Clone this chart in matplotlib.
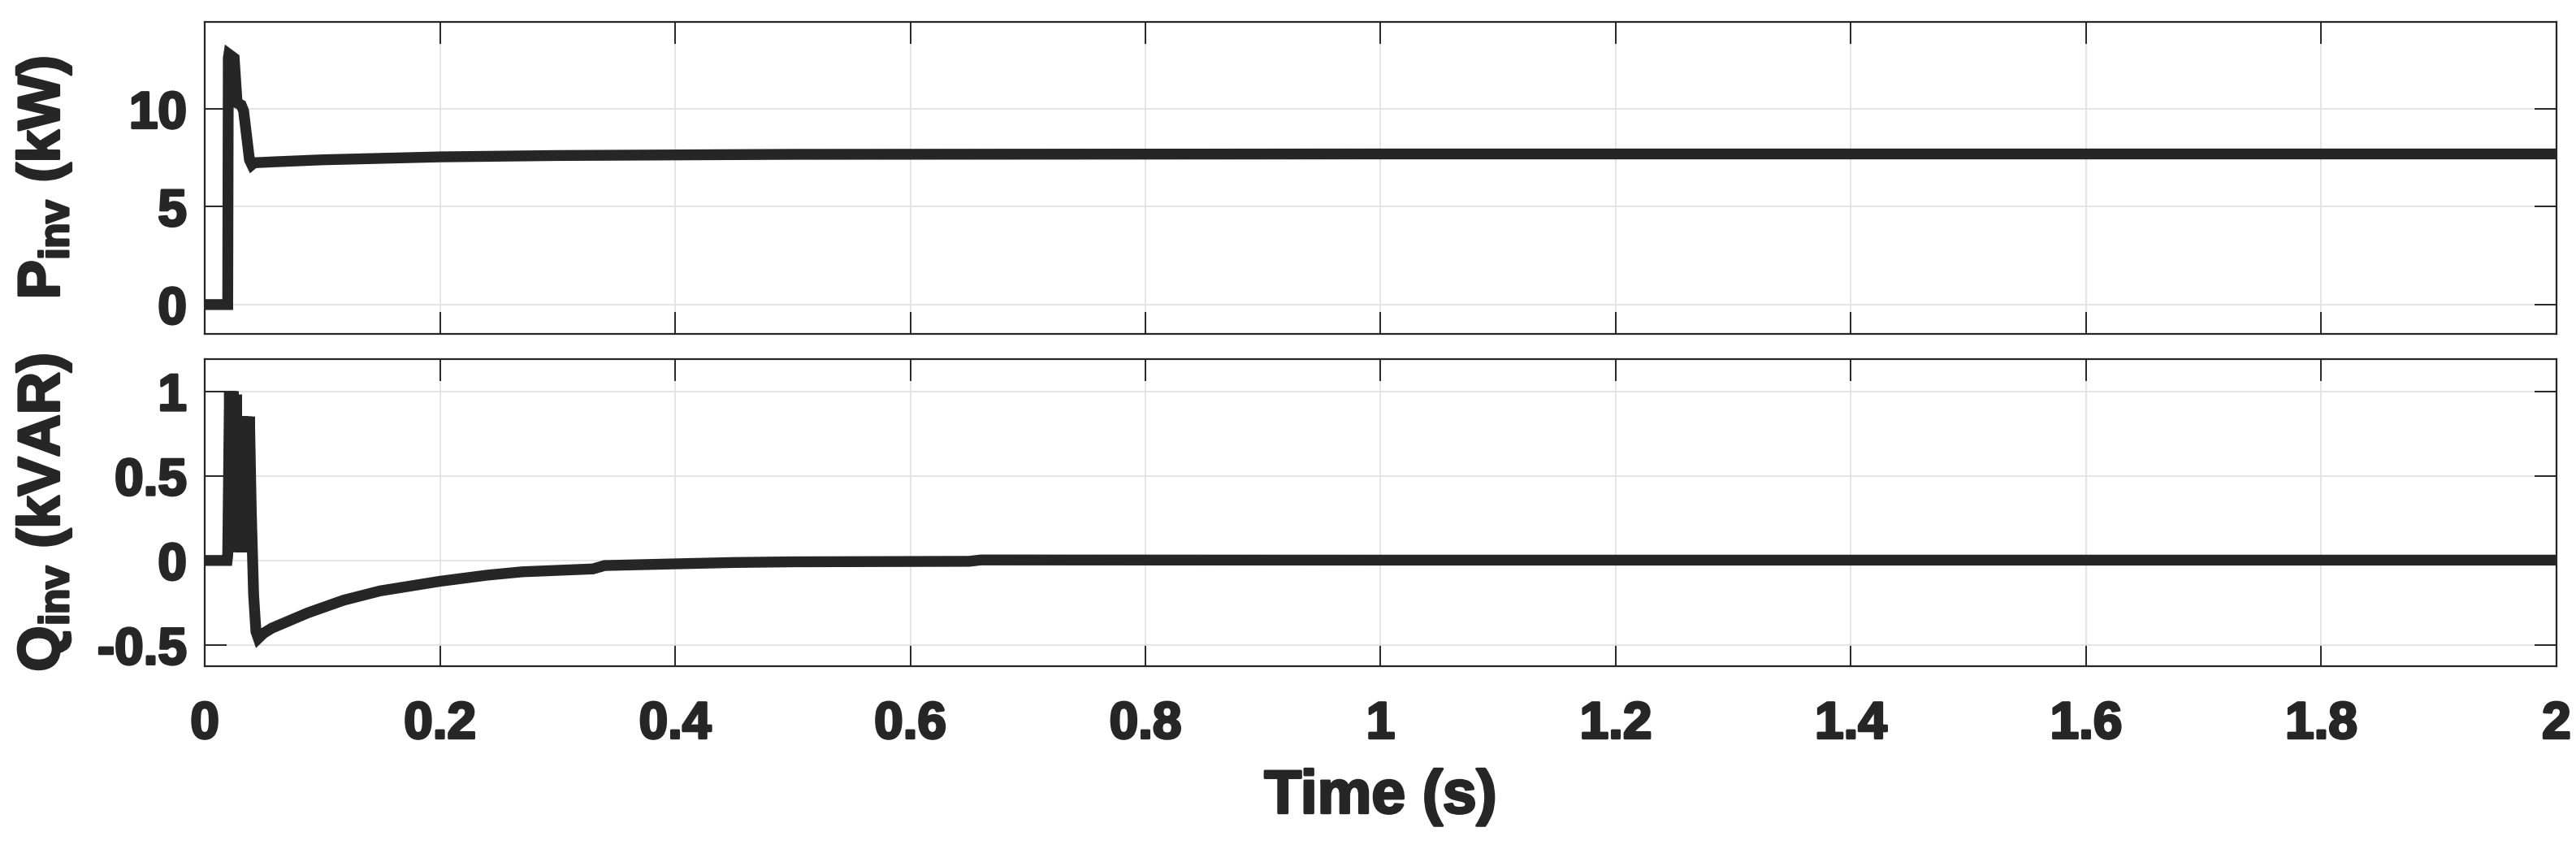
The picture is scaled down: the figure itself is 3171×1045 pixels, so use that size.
import matplotlib
matplotlib.use("Agg")
import matplotlib.pyplot as plt
import matplotlib.patheffects as pe
import numpy as np

# ---- data ----
p_time = [0.0, 0.0195, 0.0200, 0.0205, 0.0250, 0.0275, 0.0310, 0.0330,
          0.0380, 0.0400, 0.0420, 0.0600, 0.1000, 0.2000, 0.3000, 0.5000,
          1.0000, 2.0000]
p_inv = [0.0, 0.0, 12.6, 12.8, 12.6, 10.3, 10.2, 9.9,
         7.4, 7.15, 7.25, 7.3, 7.4, 7.55, 7.62, 7.68,
         7.7, 7.7]

q_time = [0.0, 0.0190, 0.0195, 0.0210, 0.0225, 0.0240, 0.0255, 0.0270,
          0.0280, 0.0295, 0.0310, 0.0325, 0.0340, 0.0355, 0.0370, 0.0380,
          0.0395, 0.0415, 0.0435, 0.0455, 0.0500, 0.0570, 0.0875, 0.1180,
          0.1490, 0.2000, 0.2400, 0.2700, 0.3300, 0.3400, 0.4000, 0.4500,
          0.5000, 0.6500, 0.6600, 1.0000, 2.0000]
q_inv = [0.0, 0.0, 0.03, 1.0, 0.1, 1.0, 0.1, 0.98,
         0.05, 0.85, 0.05, 0.85, 0.05, 0.85, 0.1, 0.85,
         0.3, -0.2, -0.42, -0.46, -0.43, -0.40, -0.31, -0.235,
         -0.18, -0.123, -0.087, -0.067, -0.05, -0.03, -0.02, -0.012,
         -0.008, -0.005, 0.003, 0.002, 0.002]

x_ticks = [0, 0.2, 0.4, 0.6, 0.8, 1.0, 1.2, 1.4, 1.6, 1.8, 2.0]
x_ticklabels = ["0", "0.2", "0.4", "0.6", "0.8", "1", "1.2", "1.4", "1.6", "1.8", "2"]
p_ticks = [0, 5, 10]
q_ticks = [-0.5, 0, 0.5, 1]
q_ticklabels = ["-0.5", "0", "0.5", "1"]

# ---- style ----
plt.rcParams['font.family'] = ['Liberation Sans', 'DejaVu Sans']
plt.rcParams['font.weight'] = 'bold'
plt.rcParams['mathtext.fontset'] = 'custom'
plt.rcParams['mathtext.rm'] = 'Liberation Sans:bold'
plt.rcParams['mathtext.bf'] = 'Liberation Sans:bold'
plt.rcParams['mathtext.it'] = 'Liberation Sans:bold'

DARK = '#262626'
TICK_FS = 46
LABEL_FS = 52
heavy = [pe.withStroke(linewidth=2.2, foreground=DARK)]

fig = plt.figure(figsize=(31.71, 10.45), dpi=100)
ax1 = fig.add_axes([0.0795, 0.6067, 0.9129, 0.3675])
ax2 = fig.add_axes([0.0795, 0.2153, 0.9129, 0.3617])

def style(ax):
    for s in ax.spines.values():
        s.set_color(DARK)
        s.set_linewidth(1.6)
    ax.grid(True, color='#e3e3e3', linewidth=1.3)
    ax.set_axisbelow(True)
    ax.tick_params(axis='both', which='both', direction='in', length=19.5,
                   width=1.4, color=DARK, top=True, right=True,
                   labelsize=TICK_FS, labelcolor=DARK)
    ax.tick_params(axis='x', pad=30)
    ax.tick_params(axis='y', pad=16)
    ax.set_xlim(0, 2)
    ax.set_xticks(x_ticks)

ax1.plot(p_time, p_inv, color=DARK, linewidth=9.6, solid_joinstyle='miter')
style(ax1)
ax1.set_ylim(-1.5, 14.45)
ax1.set_yticks(p_ticks)
ax1.set_xticklabels([])
ax1.set_ylabel(r'P$_{\rm inv}$ (kW)', fontsize=LABEL_FS, fontweight='bold', color=DARK)
ax1.yaxis.set_label_coords(-0.056, 0.5)

ax2.plot(q_time, q_inv, color=DARK, linewidth=9.6, solid_joinstyle='miter')
style(ax2)
ax2.set_ylim(-0.625, 1.19)
ax2.set_yticks(q_ticks)
ax2.set_yticklabels(q_ticklabels)
ax2.set_xticklabels(x_ticklabels)
ax2.set_ylabel(r'Q$_{\rm inv}$ (kVAR)', fontsize=LABEL_FS, fontweight='bold', color=DARK)
ax2.yaxis.set_label_coords(-0.056, 0.5)
ax2.set_xlabel('Time (s)', fontsize=LABEL_FS + 2, fontweight='bold', color=DARK, labelpad=18)

texts = (ax1.get_yticklabels() + ax2.get_yticklabels() + ax2.get_xticklabels()
         + [ax1.yaxis.label, ax2.yaxis.label, ax2.xaxis.label])
for lab in texts:
    lab.set_fontweight('bold')
    lab.set_path_effects(heavy)

fig.savefig('out.png', dpi=100, facecolor='white')
